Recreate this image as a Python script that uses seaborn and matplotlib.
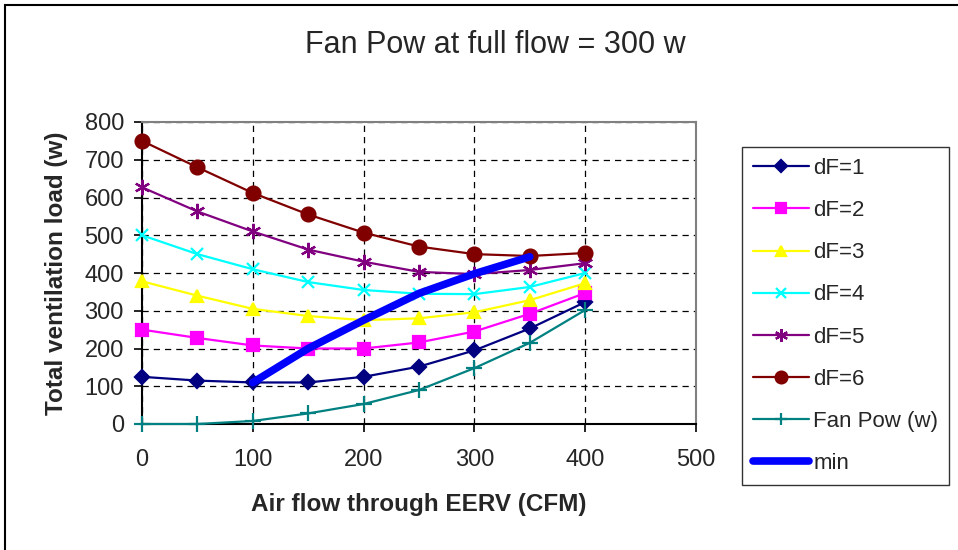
import numpy as np
import matplotlib
matplotlib.use("Agg")
import matplotlib.pyplot as plt
import seaborn as sns
from matplotlib.patches import Rectangle

# data
airflow = [0, 50, 100, 150, 200, 250, 300, 350, 400]
df1 = [125, 115, 110, 110, 125, 152, 195, 253, 323]
df2 = [250, 228, 208, 200, 200, 216, 245, 292, 347]
df3 = [378, 340, 305, 286, 275, 280, 296, 328, 373]
df4 = [500, 450, 410, 376, 355, 345, 344, 363, 400]
df5 = [627, 563, 510, 462, 430, 403, 397, 408, 426]
df6 = [750, 680, 612, 555, 507, 470, 450, 445, 453]
fan_pow = [0, 0, 8, 28, 53, 90, 148, 215, 302]

min_airflow = [100, 150, 200, 250, 300, 350]
min_load = [110, 200, 275, 346, 398, 443]

x_ticks = [0, 100, 200, 300, 400, 500]
y_ticks = [0, 100, 200, 300, 400, 500, 600, 700, 800]

sns.set_style("white")
plt.rcParams["font.family"] = ["Liberation Sans", "DejaVu Sans"]

fig = plt.figure(figsize=(9.58, 5.5), dpi=100)
ax = fig.add_axes([142 / 958, 1 - 424 / 550, (696 - 142) / 958, (424 - 122) / 550])

series = [
    ("dF=1", df1, "#000080", "D", 7),
    ("dF=2", df2, "#FF00FF", "s", 8),
    ("dF=3", df3, "#FFFF00", "^", 9),
    ("dF=4", df4, "#00FFFF", "x", 9),
    ("dF=5", df5, "#800080", (6, 2, 0), 11),
    ("dF=6", df6, "#800000", "o", 10),
    ("Fan Pow (w)", fan_pow, "#008080", "+", 11),
]

for name, vals, col, mk, ms in series:
    sns.lineplot(x=airflow, y=vals, ax=ax, color=col, lw=1.6, marker=mk,
                 markersize=ms, mec=col, mfc=col, mew=1.6, label=name,
                 clip_on=False, zorder=3)

sns.lineplot(x=min_airflow, y=min_load, ax=ax, color="#0000FF", lw=5.5,
             solid_capstyle="round", label="min", zorder=4)

ax.set_xlim(0, 500)
ax.set_ylim(0, 800)
ax.set_xticks(x_ticks)
ax.set_yticks(y_ticks)
ax.tick_params(axis="both", labelsize=17, length=6, width=1.2, direction="out",
               color="black", left=True, bottom=True)
ax.tick_params(axis="x", pad=12)
ax.tick_params(axis="y", pad=7)
ax.grid(True, color="black", linestyle=(0, (5, 4)), lw=0.9)
ax.set_axisbelow(True)

for side in ["left", "bottom"]:
    ax.spines[side].set_color("black")
    ax.spines[side].set_linewidth(1.5)
for side in ["top", "right"]:
    ax.spines[side].set_color("#808080")
    ax.spines[side].set_linewidth(1.5)

ax.set_xlabel("Air flow through EERV (CFM)", fontsize=17.5, fontweight="bold", labelpad=16)
ax.set_ylabel("Total ventilation load (w)", fontsize=17.5, fontweight="bold", labelpad=12)

fig.text(0.517, 0.918, "Fan Pow at full flow = 300 w", fontsize=22, ha="center", va="center")

handles, labels = ax.get_legend_handles_labels()
ax.get_legend().remove()
leg = fig.legend(handles, labels, loc="upper left", bbox_to_anchor=(742 / 958, 1 - 147 / 550),
                 fontsize=16, frameon=True, fancybox=False, edgecolor="black",
                 borderaxespad=0, handlelength=2.5, handletextpad=0.2,
                 labelspacing=0.95, borderpad=0.5, markerscale=0.85)
leg.get_frame().set_linewidth(1.0)

fig.patches.append(Rectangle((5 / 958, -0.05), 1.2, 1 - 5 / 550 + 0.05,
                             transform=fig.transFigure, fill=False,
                             edgecolor="black", lw=1.5))

fig.savefig("out.png", dpi=100)
